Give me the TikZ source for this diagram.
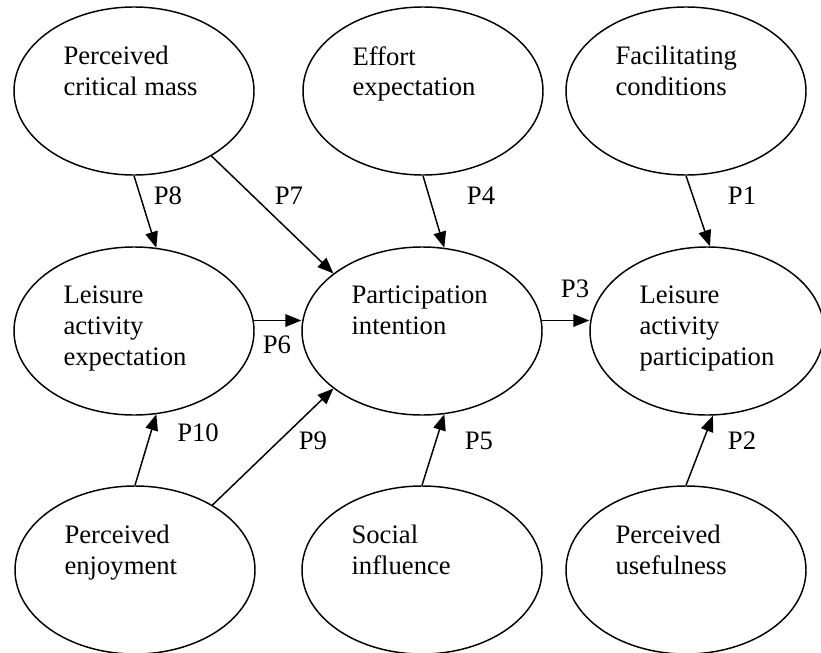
\documentclass[tikz,border=0pt]{standalone}
\usepackage{fontspec}
\setmainfont{Liberation Serif}
\usetikzlibrary{shapes.geometric, arrows.meta, calc}

\begin{document}
\begin{tikzpicture}[
    x=0.75pt, y=-0.75pt,
    oval/.style={ellipse, draw=black, line width=1.1pt, minimum width=180pt, minimum height=126pt, inner sep=0pt},
    txt/.style={anchor=north west, align=left, inner sep=0pt, font=\fontsize{20}{23.2}\selectfont},
    lbl/.style={inner sep=0pt, font=\fontsize{20}{23.2}\selectfont},
    arrow/.style={-{Triangle[length=12pt, width=9.5pt]}, line width=1.1pt}
]
\useasboundingbox (0,0) rectangle (821,653);

% Top row
\node[oval] (critmass) at (134,91) {};
\node[oval] (effort) at (423,91) {};
\node[oval] (facil) at (686,91) {};

% Middle row
\node[oval] (leisexp) at (134,331) {};
\node[oval] (intent) at (422,331) {};
\node[oval, minimum width=175.5pt] (leispart) at (707,331) {};

% Bottom row
\node[oval] (enjoy) at (135,570) {};
\node[oval] (social) at (422,570) {};
\node[oval] (useful) at (686,570) {};

% Texts
\node[txt] (critmasstxt) at ($(critmass.west)+(50,-45)$) {Perceived\\critical mass};
\node[txt] (efforttxt) at ($(effort.west)+(50,-45)$) {Effort\\expectation};
\node[txt] (faciltxt) at ($(facil.west)+(50,-45)$) {Facilitating\\conditions};
\node[txt] (leisexptxt) at ($(leisexp.west)+(50,-45)$) {Leisure\\activity\\expectation};
\node[txt] (intenttxt) at ($(intent.west)+(50,-45)$) {Participation\\intention};
\node[txt] (leisparttxt) at ($(leispart.west)+(50,-45)$) {Leisure\\activity\\participation};
\node[txt] (enjoytxt) at ($(enjoy.west)+(50,-45)$) {Perceived\\enjoyment};
\node[txt] (socialtxt) at ($(social.west)+(50,-45)$) {Social\\influence};
\node[txt] (usefultxt) at ($(useful.west)+(50,-45)$) {Perceived\\usefulness};

% Arrows
\draw[arrow] (facil.south) -- (leispart.88);
\draw[arrow] (useful.north) -- (leispart.-86);
\draw[arrow] (intent.5.3) -- (intent.5.3 -| leispart.west);
\draw[arrow] (effort.south) -- (intent.75);
\draw[arrow] (social.north) -- (intent.-75);
\draw[arrow] (leisexp.5.3) -- (leisexp.5.3 -| intent.west);
\draw[arrow] (critmass.-40) -- (intent.147);
\draw[arrow] (critmass.south) -- (leisexp.75);
\draw[arrow] (enjoy.40) -- (intent.-147);
\draw[arrow] (enjoy.north) -- (leisexp.-75);

% Path labels
\node[lbl] (p1) at (742,196) {P1};
\node[lbl] (p2) at (742,441) {P2};
\node[lbl] (p3) at (575,289) {P3};
\node[lbl] (p4) at (481,196) {P4};
\node[lbl] (p5) at (479,441) {P5};
\node[lbl] (p6) at (277,345) {P6};
\node[lbl] (p7) at (289,196) {P7};
\node[lbl] (p8) at (168,196) {P8};
\node[lbl] (p9) at (313,441) {P9};
\node[lbl] (p10) at (198,433) {P10};

\end{tikzpicture}
\end{document}
